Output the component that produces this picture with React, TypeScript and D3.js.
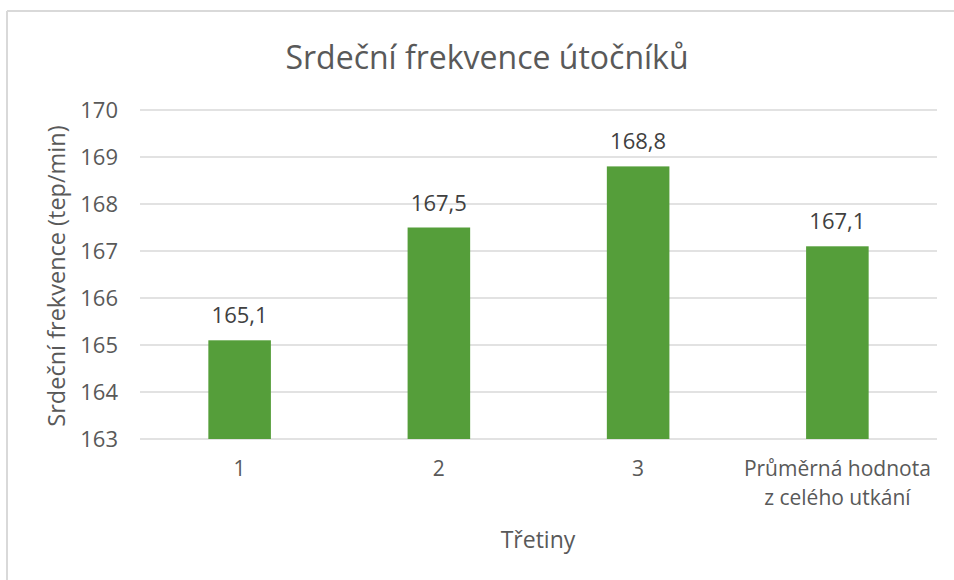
import React from "react";
import * as d3 from "d3";

const categories: string[][] = [["1"], ["2"], ["3"], ["Průměrná hodnota", "z celého utkání"]];
const values: number[] = [165.1, 167.5, 168.8, 167.1];
const valueLabels: string[] = ["165,1", "167,5", "168,8", "167,1"];
const yTicks: number[] = [163, 164, 165, 166, 167, 168, 169, 170];
const title = "Srdeční frekvence útočníků";
const yTitle = "Srdeční frekvence (tep/min)";
const xTitle = "Třetiny";

const W = 954;
const H = 580;
const FONT = "'Open Sans', sans-serif";
const TXT = "#595959";

export default function App() {
  const x = d3
    .scaleBand<number>()
    .domain(categories.map((_, i) => i))
    .range([140, 937])
    .padding(0);
  const y = d3.scaleLinear().domain([163, 170]).range([439, 110]);
  const barW = x.bandwidth() * 0.314;

  return (
    <svg
      width={W}
      height={H}
      style={{ position: "absolute", left: 0, top: 0, background: "#fff" }}
      fontFamily={FONT}
    >
      <rect x={0} y={0} width={W} height={H} fill="#fff" />
      <line x1={7} x2={W} y1={11} y2={11} stroke="#d9d9d9" strokeWidth={2} />
      <line x1={7} x2={7} y1={11} y2={H} stroke="#d9d9d9" strokeWidth={2} />
      <text x={487} y={69} textAnchor="middle" fontSize={32} fill={TXT}>
        {title}
      </text>
      {yTicks.map((t) => (
        <g key={t}>
          <line x1={140} x2={937} y1={y(t)} y2={y(t)} stroke="#d9d9d9" strokeWidth={1.5} />
          <text x={118} y={y(t)} dy="0.36em" textAnchor="end" fontSize={22} fill={TXT}>
            {t}
          </text>
        </g>
      ))}
      {values.map((v, i) => {
        const cx = (x(i) as number) + x.bandwidth() / 2;
        return (
          <g key={i}>
            <rect x={cx - barW / 2} y={y(v)} width={barW} height={y(163) - y(v)} fill="#559E3A" />
            <text x={cx} y={y(v) - 17} textAnchor="middle" fontSize={22} fill="#404040">
              {valueLabels[i]}
            </text>
            {categories[i].map((line, j) => (
              <text key={j} x={cx} y={468 + j * 29} dy="0.36em" textAnchor="middle" fontSize={21} fill={TXT}>
                {line}
              </text>
            ))}
          </g>
        );
      })}
      <text x={538} y={540} dy="0.36em" textAnchor="middle" fontSize={23} fill={TXT}>
        {xTitle}
      </text>
      <text
        transform={`translate(57,276) rotate(-90)`}
        dy="0.36em"
        textAnchor="middle"
        fontSize={23.5}
        fill={TXT}
      >
        {yTitle}
      </text>
    </svg>
  );
}
